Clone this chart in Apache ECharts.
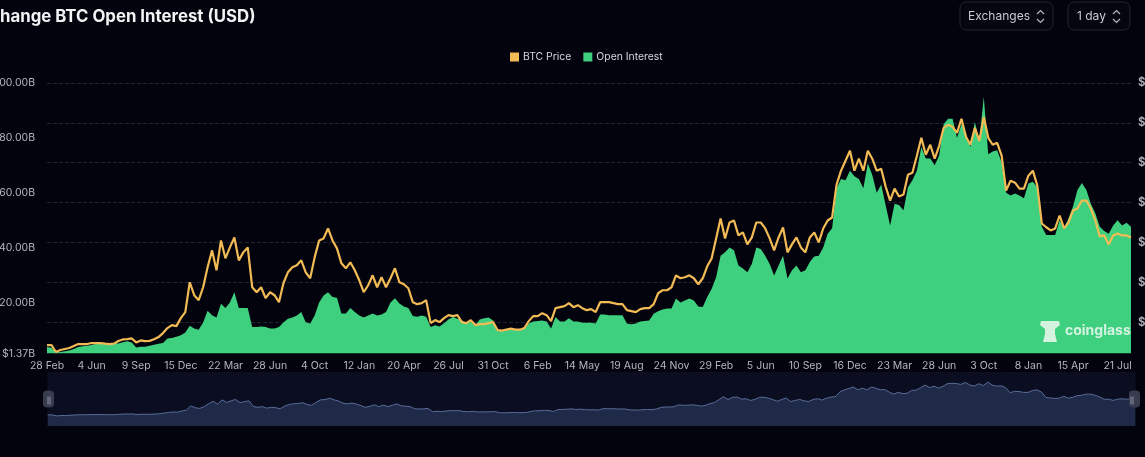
<!DOCTYPE html>
<html>
<head>
<meta charset="utf-8">
<style>html,body{margin:0;padding:0;background:#02030c;overflow:hidden}#c{width:1145px;height:457px}</style>
<script src="https://cdn.jsdelivr.net/npm/echarts@6/dist/echarts.min.js"></script>
</head>
<body>
<div id="c"></div>
<script>
const tickLabels = ['28 Feb','4 Jun','9 Sep','15 Dec','22 Mar','28 Jun','4 Oct','12 Jan','20 Apr','26 Jul','31 Oct','6 Feb','14 May','19 Aug','24 Nov','29 Feb','5 Jun','10 Sep','16 Dec','23 Mar','28 Jun','3 Oct','8 Jan','15 Apr','21 Jul'];
const priceK = [
8.5,8.5,5,6,6.5,7,8,9,9,9,
9.5,9.5,9.5,9.2,9,9.2,10.5,11.3,11.5,11.8,
9.8,10.8,10.5,10.6,11.4,12.5,14.5,17,18.5,18,
22,25,40,33.5,31,37.5,47.5,56,46,61,
52,57.5,62.5,51,55,57.5,37.5,35,37.5,32,
35,33.5,30,39.5,45,47.5,48.5,51,45,42,
52.5,61,62,67,61,57,49.5,47,50,46,
41,35,38.5,43.5,37.5,42.5,37.5,42,47,40,
39,37,30,29,29.5,31,19.5,21,20,22,
23.5,23,23.5,20,19.5,21,18.5,19,19,19.5,
20,16,15.7,16.2,16.7,16.2,16.2,17,20.5,23,
23,24.5,23.5,20.5,27,27.5,28,29.5,27.5,28.5,
27,26,26.5,25,30,30,30,29.5,29,29,
26,25.5,25,26.5,27,27,29,34.5,36,36,
37.5,43.5,42,42.5,43.5,42,39,42,48,52,
62,72,62,70,71,63.5,65,59,62.5,70,
70,67,62,56,62.5,67.5,55,59,62.5,57.5,
55,62.5,65,60,67,71,72.5,89,96,101,
106,96,102,96,106,102,96,97,88,81,
87,83,84,94,95,103.5,112.5,104,109,102,
108.5,117.5,119,118,115,122,113,109,117.5,111,
123,112.5,109,110,103.5,86,91,90,87,87,
93.5,96,88.5,69.5,67.6,66,67,73.5,67,70,
76,77,81,81,77,71,63,63.5,59,63.5,
64.5,63.5,63.5,62.5];
const openInterestB = [
3.7,3.5,1.8,1.9,2.2,2.5,3,3.7,4,4.2,
4.5,4.8,5,5,5,5.2,5,5.5,5.8,5.4,
3.6,3.8,3.8,4.2,4.6,4.9,5.2,6.8,7,7.5,
8,9,11.5,10.5,10,12.7,17,15.3,14.5,19.5,
18,20,23.7,18,18,18,11,11,11.2,11,
10.5,10.5,11,12.7,14,14.5,15.2,16.5,12.8,12.3,
15.2,20,22.5,23.7,22,21.7,16,16,18,16.5,
15.2,14.5,15.2,16,15.2,15.6,16.5,20,21.5,19.6,
18.5,18,15,14.8,15.2,14.8,11,11.7,11.2,12.4,
13.8,14.7,14,13.5,12.3,13,11.6,13.8,14.2,14.5,
13.4,9.8,9.5,10,10.2,10,10,10.4,12.3,13,
13.2,13.4,13,10.5,14.7,13,13,14.2,13,13,
12.6,12.6,12.6,12.3,15.6,15.6,15.3,15.3,15.3,15.3,
12.3,12,12.3,13,13.2,13.4,15.9,16.8,17.4,17.8,
17.8,21.4,20,20.7,21.4,20.7,18.5,18.3,22,25,
29.2,37,38.3,40,39,33.5,32.4,31,34,40,
39.5,37,34,29.8,33.5,37,28.7,31.7,33.5,31,
31.7,34.7,36.7,37,40,45,47,61.6,65,64.5,
68,66,65,61.6,70.7,66.5,60,63,55.4,48,
56,55.5,53.6,62,64.5,68,76.7,72.5,72.5,70,
73.6,85,87,87,80,85,81.7,76.7,85.8,79,
95,74,75,75.5,71,60,59,59.7,59,58,
63.4,64,62,47.6,44.6,44.6,44.6,50,47,50.7,
55,61,63.5,61,56,52.5,47.6,46,45,48,
50,48,49,47.6];
const leftTicks = [1.37,20,40,60,80,100];
const rightTicks = [20,40,60,80,100,120,140];
const categories = priceK.map((_, i) => i % 10 === 0 ? tickLabels[i / 10] : '');

const labelFont = 'Inter, "Noto Sans", sans-serif';
const chevrons = x => ({type:'polyline',shape:{points:[[x,14],[x+3.5,10.5],[x+7,14]]},style:{stroke:'#b5b8c0',lineWidth:1.2,fill:null}});
const chevrons2 = x => ({type:'polyline',shape:{points:[[x,19],[x+3.5,22.5],[x+7,19]]},style:{stroke:'#b5b8c0',lineWidth:1.2,fill:null}});
const button = (x,w) => ({type:'rect',shape:{x:x,y:2,width:w,height:28,r:6},style:{fill:'#05060f',stroke:'#23252e',lineWidth:1}});
const btnText = (x,t) => ({type:'text',x:x,y:16,style:{text:t,fill:'#c9ccd3',font:'12px '+labelFont,verticalAlign:'middle'}});
const bar = (x) => ({type:'rect',shape:{x:x,y:396.5,width:1,height:8},z:200,style:{fill:'#8b90a3'}});

const chart = echarts.init(document.getElementById('c'));
chart.setOption({
  backgroundColor:'#02030c',
  animation:false,
  title:{text:'hange BTC Open Interest (USD)',left:-5,top:3,textStyle:{color:'#f2f3f5',fontSize:16.8,fontWeight:700,fontFamily:labelFont}},
  legend:{top:47,left:505,itemWidth:9,itemHeight:9,itemGap:12,icon:'rect',
    data:['BTC Price','Open Interest'],
    textStyle:{color:'#d5d7dc',fontSize:10.4,fontFamily:labelFont,padding:[0,0,0,-1]}},
  grid:{left:47,right:14,top:83,bottom:103.5,outerBoundsMode:'none'},
  xAxis:{type:'category',data:categories,boundaryGap:false,
    axisLine:{show:false},axisTick:{show:false},splitLine:{show:false},
    axisLabel:{interval:9,color:'#b4b7be',fontSize:10.5,fontFamily:labelFont,margin:7}},
  yAxis:[
    {type:'value',position:'left',min:1.37,max:100,
     axisLine:{show:false},axisTick:{show:false},splitLine:{show:false},
     axisLabel:{customValues:leftTicks,color:'#b4b7be',fontSize:10.5,fontFamily:labelFont,margin:12,
       formatter:v=>'$'+v.toFixed(2)+'B'}},
    {type:'value',position:'right',min:4.25,max:140,
     axisLine:{show:false},axisTick:{show:false,customValues:rightTicks},
     splitLine:{show:true,customValues:rightTicks,lineStyle:{color:'#22242c',type:'dashed',width:1}},
     axisLabel:{customValues:rightTicks,color:'#b4b7be',fontSize:11.5,fontWeight:600,fontFamily:labelFont,margin:7,
       formatter:v=>'$'+v+'.00K'}}
  ],
  dataZoom:[{type:'slider',xAxisIndex:0,left:45,right:12,top:372,height:54,
    start:0,end:100,showDetail:false,brushSelect:false,moveHandleSize:0,showDataShadow:true,
    backgroundColor:'#0a0e20',borderColor:'transparent',fillerColor:'rgba(0,0,0,0)',
    dataBackground:{lineStyle:{color:'#5a6c99',width:1,opacity:1},areaStyle:{color:'#1e2a47',opacity:1}},
    selectedDataBackground:{lineStyle:{color:'#5a6c99',width:1,opacity:1},areaStyle:{color:'#1e2a47',opacity:1}},
    handleIcon:'path://M3,0 H7 Q10,0 10,3 V13 Q10,16 7,16 H3 Q0,16 0,13 V3 Q0,0 3,0 Z',
    handleSize:16,handleStyle:{color:'#383c4e',borderColor:'#383c4e'}}],
  series:[
    {name:'BTC Price',type:'line',yAxisIndex:1,data:priceK,showSymbol:false,z:5,
     lineStyle:{color:'#f2bb55',width:2.2},itemStyle:{color:'#f2bb55'}},
    {name:'Open Interest',type:'line',yAxisIndex:0,data:openInterestB,showSymbol:false,z:3,
     lineStyle:{width:0,color:'#3ecf7f'},itemStyle:{color:'#3ecf7f'},areaStyle:{color:'#3ecf7f',opacity:1}}
  ],
  graphic:[
    button(960,93),btnText(968,'Exchanges'),chevrons(1037),chevrons2(1037),
    button(1068,62),btnText(1077,'1 day'),chevrons(1113),chevrons2(1113),
    bar(47.5),bar(49.5),bar(1130.5),bar(1132.5),
    {type:'text',x:1065,y:331,z:100,style:{text:'coinglass',fill:'#d3f3e0',font:'700 14px '+labelFont,verticalAlign:'middle'}},
    {type:'polygon',z:100,shape:{points:[[1041,321],[1059,321],[1060,325],[1055,329],[1055,334],[1057,342],[1043,342],[1045,334],[1045,329],[1040,325]]},
      style:{fill:'#d3f3e0'}}
  ]
});
</script>
</body>
</html>
